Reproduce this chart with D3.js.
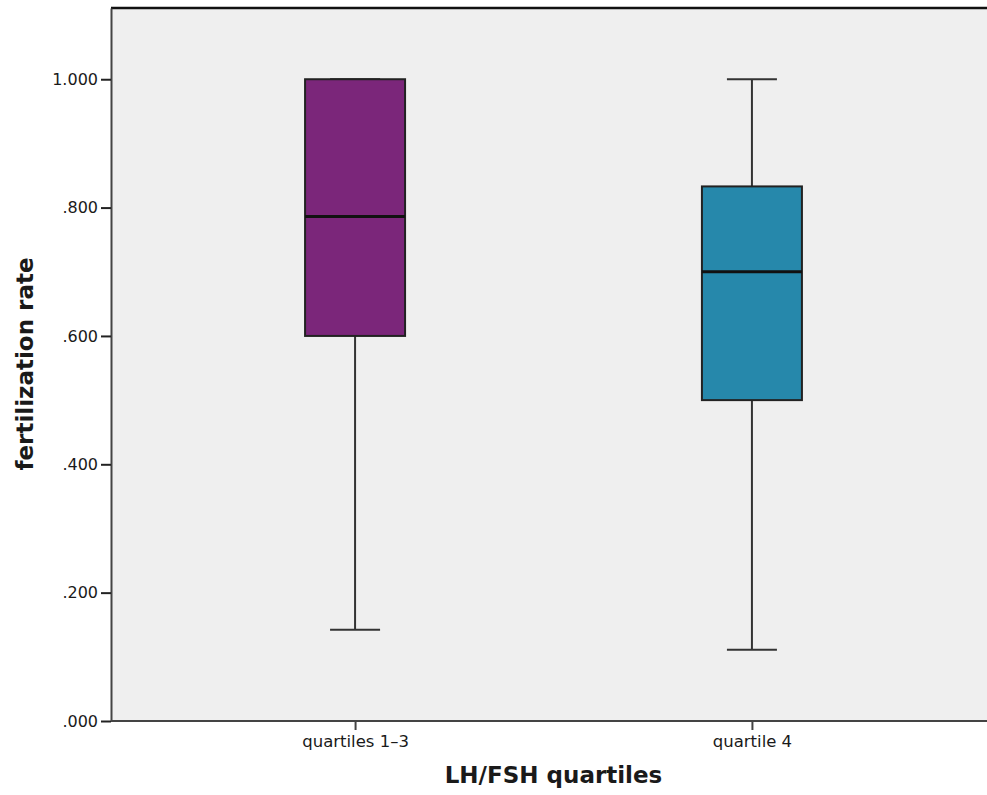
<!DOCTYPE html>
<html>
<head>
<meta charset="utf-8">
<script src="https://cdn.jsdelivr.net/npm/d3@7"></script>
<style>
  body { margin: 0; background: #fff; }
  text { font-family: "DejaVu Sans", sans-serif; }
</style>
</head>
<body>
<div id="chart"></div>
<script>
// Box plot data
const categories = ["quartiles 1\u20133", "quartile 4"];
const whiskerLow = [0.142, 0.111];
const q1 = [0.600, 0.500];
const median = [0.786, 0.700];
const q3 = [1.000, 0.833];
const whiskerHigh = [1.000, 1.000];
const boxColors = ["#7b267a", "#2688ab"];
const yTicks = [0, 0.2, 0.4, 0.6, 0.8, 1.0];

const fullWidth = 987;
const fullHeight = 795;
const margin = { top: 8, right: 0, bottom: 74, left: 111 };
const width = fullWidth - margin.left - margin.right;
const height = fullHeight - margin.top - margin.bottom;

const svg = d3.select("#chart").append("svg")
  .attr("width", fullWidth)
  .attr("height", fullHeight);

const g = svg.append("g")
  .attr("transform", `translate(${margin.left},${margin.top})`);

// Scales
const yScale = d3.scaleLinear()
  .domain([0, 1.111])
  .range([height, 0]);

const xScale = d3.scalePoint()
  .domain(categories)
  .range([0, width + 9])
  .padding(0.615);

// Plot background
g.append("rect")
  .attr("width", width)
  .attr("height", height)
  .attr("fill", "#efefef");

// Top border line
g.append("line")
  .attr("x1", 0).attr("x2", width)
  .attr("y1", 0).attr("y2", 0)
  .attr("stroke", "#111")
  .attr("stroke-width", 2.5);

const fmt = d => d3.format(".3f")(d).replace(/^0/, "");

// Y axis
const yAxis = g.append("g")
  .call(d3.axisLeft(yScale).tickValues(yTicks).tickFormat(fmt).tickSize(10).tickSizeOuter(0));
yAxis.select(".domain").attr("stroke", "#444").attr("stroke-width", 2);
yAxis.selectAll(".tick line").attr("stroke", "#222").attr("stroke-width", 2);
yAxis.selectAll(".tick text")
  .attr("x", -13)
  .attr("font-size", 16)
  .attr("font-family", "DejaVu Sans")
  .attr("fill", "#1a1a1a");

// X axis
const xAxis = g.append("g")
  .attr("transform", `translate(0,${height})`)
  .call(d3.axisBottom(xScale).tickSize(9).tickSizeOuter(0));
xAxis.select(".domain").attr("d", `M0,0H${width}`).attr("stroke", "#444").attr("stroke-width", 2);
xAxis.selectAll(".tick line").attr("stroke", "#444").attr("stroke-width", 2);
xAxis.selectAll(".tick text")
  .attr("y", 14)
  .attr("font-size", 16.5)
  .attr("font-family", "DejaVu Sans")
  .attr("fill", "#1a1a1a");

// Boxes
const boxHalf = 50;
const capHalf = 25;
const boxes = g.selectAll(".box")
  .data(categories)
  .enter()
  .append("g")
  .attr("class", "box");

boxes.append("line")
  .attr("x1", d => xScale(d)).attr("x2", d => xScale(d))
  .attr("y1", (d, i) => yScale(whiskerLow[i]))
  .attr("y2", (d, i) => yScale(q1[i]))
  .attr("stroke", "#333").attr("stroke-width", 2);

boxes.append("line")
  .attr("x1", d => xScale(d)).attr("x2", d => xScale(d))
  .attr("y1", (d, i) => yScale(q3[i]))
  .attr("y2", (d, i) => yScale(whiskerHigh[i]))
  .attr("stroke", "#333").attr("stroke-width", 2);

boxes.append("line")
  .attr("x1", d => xScale(d) - capHalf).attr("x2", d => xScale(d) + capHalf)
  .attr("y1", (d, i) => yScale(whiskerLow[i]))
  .attr("y2", (d, i) => yScale(whiskerLow[i]))
  .attr("stroke", "#333").attr("stroke-width", 2);

boxes.append("line")
  .attr("x1", d => xScale(d) - capHalf).attr("x2", d => xScale(d) + capHalf)
  .attr("y1", (d, i) => yScale(whiskerHigh[i]))
  .attr("y2", (d, i) => yScale(whiskerHigh[i]))
  .attr("stroke", "#333").attr("stroke-width", 2);

boxes.append("rect")
  .attr("x", d => xScale(d) - boxHalf)
  .attr("width", boxHalf * 2)
  .attr("y", (d, i) => yScale(q3[i]))
  .attr("height", (d, i) => yScale(q1[i]) - yScale(q3[i]))
  .attr("fill", (d, i) => boxColors[i])
  .attr("stroke", "#222")
  .attr("stroke-width", 2);

boxes.append("line")
  .attr("x1", d => xScale(d) - boxHalf).attr("x2", d => xScale(d) + boxHalf)
  .attr("y1", (d, i) => yScale(median[i]))
  .attr("y2", (d, i) => yScale(median[i]))
  .attr("stroke", "#111").attr("stroke-width", 3);

// Axis titles
svg.append("text")
  .attr("x", margin.left + (width + 9) / 2)
  .attr("y", 783)
  .attr("text-anchor", "middle")
  .attr("font-size", 23)
  .attr("font-weight", "bold")
  .attr("fill", "#1a1a1a")
  .text("LH/FSH quartiles");

svg.append("text")
  .attr("transform", "translate(33,364) rotate(-90)")
  .attr("text-anchor", "middle")
  .attr("font-size", 23)
  .attr("font-weight", "bold")
  .attr("fill", "#1a1a1a")
  .text("fertilization rate");
</script>
</body>
</html>
